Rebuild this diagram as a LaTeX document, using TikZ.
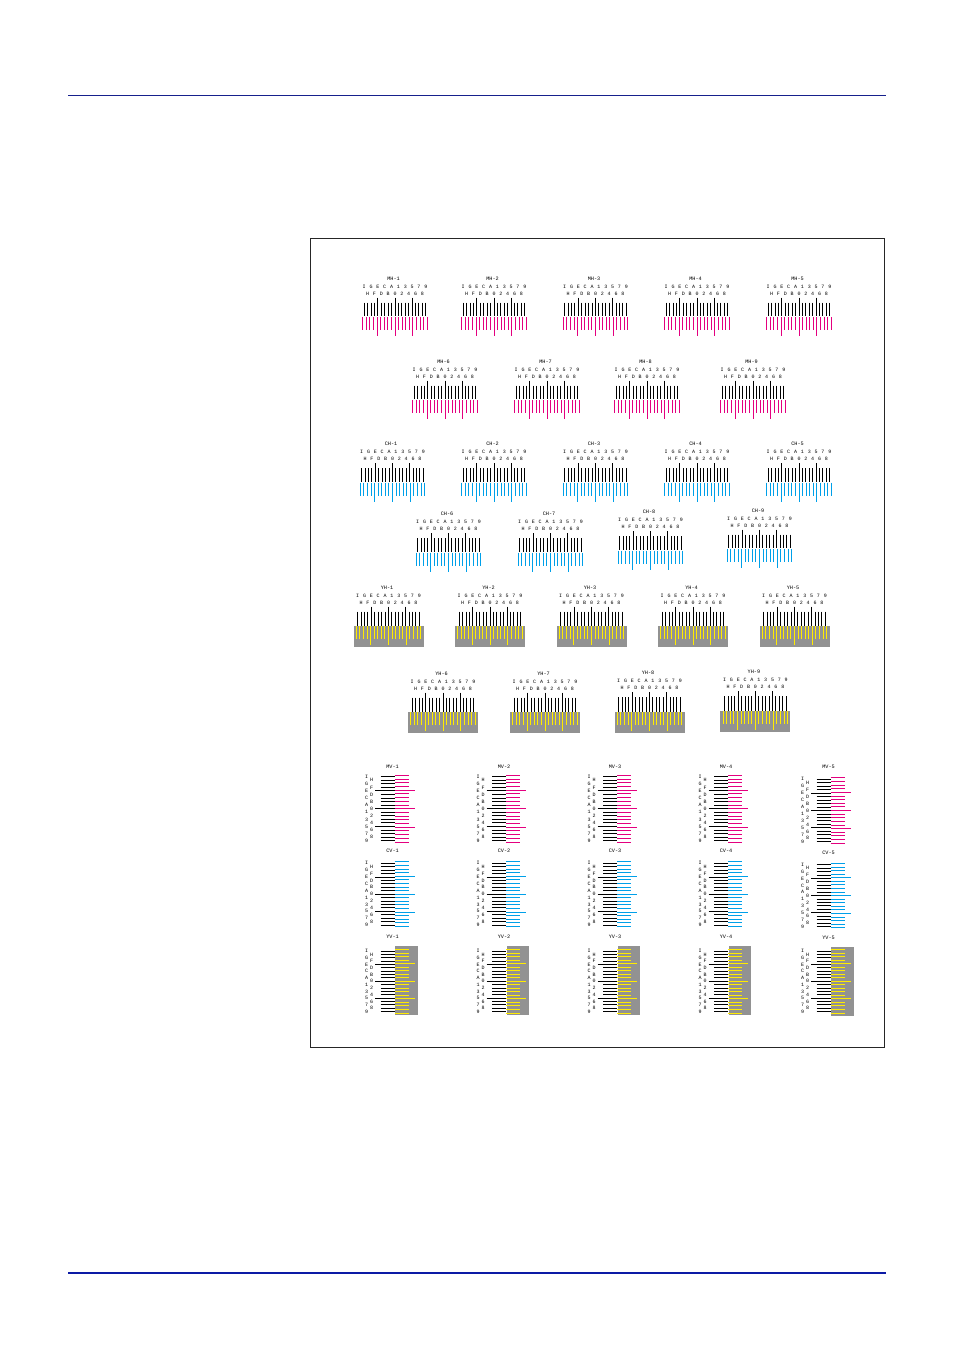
\documentclass[tikz,border=0pt]{standalone}
\usepackage{fontspec}
\setmonofont{Liberation Mono}
\definecolor{pmag}{RGB}{228,0,127}
\definecolor{pcyan}{RGB}{0,160,233}
\definecolor{pyel}{RGB}{255,236,0}
\definecolor{pgray}{RGB}{146,146,146}
\definecolor{ruleA}{RGB}{22,32,140}
\definecolor{ruleB}{RGB}{12,26,165}
\tikzset{
  lab/.style={font=\ttfamily\fontsize{5.2}{5.2}\selectfont, inner sep=0pt},
  lettr/.style={font=\ttfamily\fontsize{5}{5}\selectfont, inner sep=0pt},
  bar/.style={line width=1pt},
  graybox/.style={fill=pgray, draw=none},
}
% horizontal pattern: #1 id, #2 centre x, #3 label y, #4 label, #5 colour, #6 black bottom, #7 colour top
\newcommand\HPat[7]{%
  \pgfmathsetmacro\xo{#2-9*3.42}%
  \node[lab] (#1-lab) at (#2-1.5,#3) {#4};
  \foreach \c [count=\i from 0] in {I,G,E,C,A,1,3,5,7,9}
    \node[lettr] (#1-a\i) at ({\xo+2*\i*3.42},{#3+8}) {\c};
  \foreach \c [count=\i from 0] in {H,F,D,B,0,2,4,6,8}
    \node[lettr] (#1-b\i) at ({\xo+(2*\i+1)*3.42},{#3+15}) {\c};
  \foreach \k in {0,...,18}{
    \pgfmathsetmacro\xx{round(\xo+\k*3.42-0.5)+0.5}
    \pgfmathsetmacro\xc{round(\xo+\k*3.42+(\k-9)*0.16-0.5)+0.5}
    \pgfmathsetmacro\tp{(\k==4||\k==9||\k==14)?19:24}
    \pgfmathsetmacro\bt{(\k==4||\k==9||\k==14)?57.5:51.5}
    \draw[bar,black] (\xx,#3+\tp) -- (\xx,#3+#6);
    \draw[bar,#5] (\xc,#3+#7) -- (\xc,#3+\bt);
  }
}
% vertical pattern: #1 id, #2 label x, #3 label y, #4 label, #5 colour, #6 top offset, #7 pitch
\newcommand\VPat[7]{%
  \node[lab] (#1-lab) at (#2,#3) {#4};
  \foreach \c [count=\i from 0] in {I,G,E,C,A,1,3,5,7,9}
    \node[lettr] (#1-a\i) at ({#2-26},{#3+#6+2*\i*#7}) {\c};
  \foreach \c [count=\i from 0] in {H,F,D,B,0,2,4,6,8}
    \node[lettr] (#1-b\i) at ({#2-21},{#3+#6+(2*\i+1)*#7}) {\c};
  \foreach \k in {0,...,18}{
    \pgfmathsetmacro\yy{round(#3+#6+\k*#7-0.5)+0.5}
    \pgfmathsetmacro\yc{round(#3+#6+\k*#7+(\k-9)*0.15-0.5)+0.5}
    \pgfmathsetmacro\lf{(\k==4||\k==9||\k==14)?17.3:12}
    \pgfmathsetmacro\rt{(\k==4||\k==9||\k==14)?22:16.3}
    \draw[bar,black] (#2-\lf,\yy) -- (#2+2,\yy);
    \draw[bar,#5] (#2+2,\yc) -- (#2+\rt,\yc);
  }
}
\begin{document}
\begin{tikzpicture}[x=1pt,y=-1pt]
\useasboundingbox (0,0) rectangle (954,1350);
\fill[white] (0,0) rectangle (954,1350);
% page rules
\coordinate (tl) at (68,95.5);
\coordinate (tr) at (886,95.5);
\draw[ruleA, line width=0.9pt] (tl) -- (tr);
\coordinate (bl) at (68,1272.5);
\coordinate (br) at (886,1272.5);
\draw[ruleB, line width=2pt] (bl) -- (br);
% frame
\node[draw=black!85, line width=0.9pt, minimum width=574pt, minimum height=809pt, inner sep=0pt, anchor=north west] (frame) at (310,238) {};

% MH rows
\HPat{mh1}{395}{278.5}{MH-1}{pmag}{37.5}{38.7}
\HPat{mh2}{494}{278.5}{MH-2}{pmag}{37.5}{38.7}
\HPat{mh3}{595.5}{278.5}{MH-3}{pmag}{37.5}{38.7}
\HPat{mh4}{697}{278.5}{MH-4}{pmag}{37.5}{38.7}
\HPat{mh5}{799}{278.5}{MH-5}{pmag}{37.5}{38.7}
\HPat{mh6}{445}{361.5}{MH-6}{pmag}{37.5}{38.7}
\HPat{mh7}{547}{361.5}{MH-7}{pmag}{37.5}{38.7}
\HPat{mh8}{647}{361.5}{MH-8}{pmag}{37.5}{38.7}
\HPat{mh9}{753}{361.5}{MH-9}{pmag}{37.5}{38.7}
% CH rows
\HPat{ch1}{392.5}{444}{CH-1}{pcyan}{37.5}{38.7}
\HPat{ch2}{494}{444}{CH-2}{pcyan}{37.5}{38.7}
\HPat{ch3}{595.5}{444}{CH-3}{pcyan}{37.5}{38.7}
\HPat{ch4}{697}{444}{CH-4}{pcyan}{37.5}{38.7}
\HPat{ch5}{799}{444}{CH-5}{pcyan}{37.5}{38.7}
\HPat{ch6}{448.5}{514}{CH-6}{pcyan}{37.5}{38.7}
\HPat{ch7}{550.5}{514}{CH-7}{pcyan}{37.5}{38.7}
\HPat{ch8}{650.5}{512}{CH-8}{pcyan}{37.5}{38.7}
\HPat{ch9}{759.5}{510.7}{CH-9}{pcyan}{37.5}{38.7}
% YH rows (grey boxes first)
\foreach \cx/\ly in {388.5/587.5,490/587.5,591.5/587.5,693/587.5,794.5/587.5,443/673.5,545/673.5,649.5/673,755.4/672}
  \fill[graybox] (\cx-35,\ly+38.5) rectangle (\cx+35,\ly+59.5);
\HPat{yh1}{388.5}{587.5}{YH-1}{pyel}{38.5}{38.5}
\HPat{yh2}{490}{587.5}{YH-2}{pyel}{38.5}{38.5}
\HPat{yh3}{591.5}{587.5}{YH-3}{pyel}{38.5}{38.5}
\HPat{yh4}{693}{587.5}{YH-4}{pyel}{38.5}{38.5}
\HPat{yh5}{794.5}{587.5}{YH-5}{pyel}{38.5}{38.5}
\HPat{yh6}{443}{673.5}{YH-6}{pyel}{38.5}{38.5}
\HPat{yh7}{545}{673.5}{YH-7}{pyel}{38.5}{38.5}
\HPat{yh8}{649.5}{673}{YH-8}{pyel}{38.5}{38.5}
\HPat{yh9}{755.4}{672}{YH-9}{pyel}{38.5}{38.5}
% MV row
\VPat{mv1}{392.5}{766.5}{MV-1}{pmag}{10.2}{3.56}
\VPat{mv2}{504}{766.5}{MV-2}{pmag}{10.2}{3.56}
\VPat{mv3}{615}{766.5}{MV-3}{pmag}{10.2}{3.56}
\VPat{mv4}{726}{766.5}{MV-4}{pmag}{10.2}{3.56}
\VPat{mv5}{828.5}{767.3}{MV-5}{pmag}{12}{3.47}
% CV row
\VPat{cv1}{392.5}{851}{CV-1}{pcyan}{12.3}{3.43}
\VPat{cv2}{504}{851}{CV-2}{pcyan}{12.3}{3.43}
\VPat{cv3}{615}{851}{CV-3}{pcyan}{12.3}{3.43}
\VPat{cv4}{726}{851}{CV-4}{pcyan}{12.3}{3.43}
\VPat{cv5}{828.5}{852.5}{CV-5}{pcyan}{12.3}{3.43}
% YV row
\foreach \lx/\ly in {392.5/937,504/937,615/937,726/937,828.5/938}
  \fill[graybox] (\lx+2.7,\ly+9.3) rectangle (\lx+25.3,\ly+78.3);
\VPat{yv1}{392.5}{937}{YV-1}{pyel}{14}{3.37}
\VPat{yv2}{504}{937}{YV-2}{pyel}{14}{3.37}
\VPat{yv3}{615}{937}{YV-3}{pyel}{14}{3.37}
\VPat{yv4}{726}{937}{YV-4}{pyel}{14}{3.37}
\VPat{yv5}{828.5}{938}{YV-5}{pyel}{13}{3.37}
\end{tikzpicture}
\end{document}
